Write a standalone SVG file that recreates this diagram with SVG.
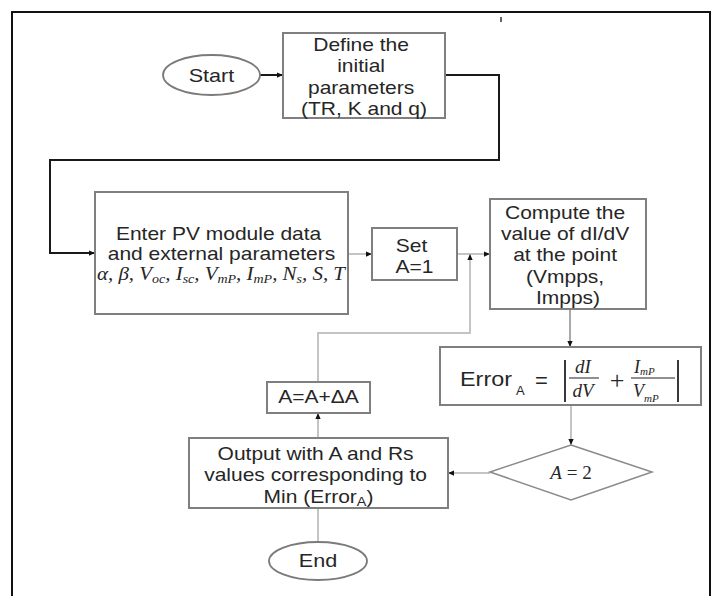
<svg xmlns="http://www.w3.org/2000/svg" width="716" height="596" viewBox="0 0 716 596">
<defs>
<style>
.box{fill:#fff;stroke:#7f7f7f;stroke-width:2}
.t{font-family:"Liberation Sans",Arial,sans-serif;font-size:17.5px;fill:#262626;text-anchor:middle}
.s{font-family:"Liberation Sans",Arial,sans-serif;fill:#262626}
.m{font-family:"Liberation Serif","DejaVu Serif",serif;font-style:italic;fill:#262626}
.r{font-family:"Liberation Serif","DejaVu Serif",serif;fill:#262626}
.dk{fill:none;stroke:#1a1a1a;stroke-width:2}
.lt{fill:none;stroke:#c4c4c4;stroke-width:2}
.md{fill:none;stroke:#8c8c8c;stroke-width:1.5}
</style>
<marker id="ah" viewBox="0 0 8 8" refX="8" refY="4" markerWidth="6" markerHeight="6" markerUnits="userSpaceOnUse" orient="auto"><path d="M0,0.5 L8,4 L0,7.5 z" fill="#111"/></marker>
</defs>
<rect width="716" height="596" fill="#fff"/>
<path d="M12,600 V12 H710 V600" fill="none" stroke="#111" stroke-width="2"/>
<line x1="501" y1="17" x2="501" y2="22" stroke="#333" stroke-width="1.5"/>

<g id="connectors">
<path class="dk" d="M260,75 H283" stroke-width="1.5" marker-end="url(#ah)"/>
<path class="dk" d="M445,75 H499 V160 H50 V253 H95" marker-end="url(#ah)"/>
<path class="lt" d="M348,254 H372" marker-end="url(#ah)"/>
<path class="lt" d="M457,254 H490" marker-end="url(#ah)"/>
<path class="md" d="M570,309 V347" marker-end="url(#ah)"/>
<path class="lt" d="M571,405 V445" marker-end="url(#ah)"/>
<path class="lt" d="M490,473 H448" marker-end="url(#ah)"/>
<path class="lt" d="M318,438 V413" marker-end="url(#ah)"/>
<path class="lt" d="M318,382 V333 H470 V254" marker-end="url(#ah)"/>
<path class="lt" d="M318,508 V542"/>
</g>

<g id="start">
<ellipse cx="211.5" cy="75" rx="48.5" ry="20" fill="#fff" stroke="#7a7a7a" stroke-width="1.8"/>
<text class="t" transform="matrix(1.2 0 0 1 211.5 0)" x="0" y="82" style="font-size:18px">Start</text>
</g>

<g id="define">
<rect class="box" x="283" y="33" width="162" height="85"/>
<text class="t" transform="matrix(1.2 0 0 1 364 0)">
<tspan x="0" y="51">Define the</tspan>
<tspan x="0" y="72">initial</tspan>
<tspan x="0" y="94">parameters</tspan>
<tspan x="0" y="115">(TR, K and q)</tspan>
</text>
</g>

<g id="enter">
<rect class="box" x="95" y="192" width="253" height="122"/>
<text class="t" transform="matrix(1.2 0 0 1 221.5 0)">
<tspan x="0" y="240">Enter PV module data</tspan>
<tspan x="0" y="260">and external parameters</tspan>
</text>
<text class="m" x="221" y="280" text-anchor="middle" font-size="18" textLength="248" lengthAdjust="spacingAndGlyphs">α, β, V<tspan font-size="12" dy="3">oc</tspan><tspan dy="-3">, I</tspan><tspan font-size="12" dy="3">sc</tspan><tspan dy="-3">, V</tspan><tspan font-size="12" dy="3">mP</tspan><tspan dy="-3">, I</tspan><tspan font-size="12" dy="3">mP</tspan><tspan dy="-3">, N</tspan><tspan font-size="12" dy="3">s</tspan><tspan dy="-3">, S, T</tspan></text>
</g>

<g id="set">
<rect class="box" x="372" y="228" width="85" height="52"/>
<text class="t" transform="matrix(1.2 0 0 1 414.5 0)">
<tspan x="0" y="252">Set</tspan>
<tspan x="0" y="273">A=1</tspan>
</text>
</g>

<g id="compute">
<rect class="box" x="490" y="199" width="156" height="110"/>
<text class="t" transform="matrix(1.2 0 0 1 568 0)">
<tspan x="0" y="219">Compute the</tspan>
<tspan x="0" y="240">value of dI/dV</tspan>
<tspan x="0" y="261">at the point</tspan>
<tspan x="0" y="283">(Vmpps,</tspan>
<tspan x="0" y="304">Impps)</tspan>
</text>
</g>

<g id="error">
<rect class="box" x="440" y="347" width="261" height="58"/>
<text class="s" x="460" y="386" font-size="20" textLength="52" lengthAdjust="spacingAndGlyphs">Error</text>
<text class="s" x="516" y="395" font-size="13">A</text>
<text class="s" x="535" y="388" font-size="22">=</text>
<line x1="565" y1="360" x2="565" y2="402" stroke="#222" stroke-width="1.8"/>
<text class="m" x="583" y="373" font-size="19" text-anchor="middle">dI</text>
<line x1="569" y1="378" x2="599" y2="378" stroke="#222" stroke-width="1"/>
<text class="m" x="583" y="397" font-size="19" text-anchor="middle">dV</text>
<text class="r" x="617" y="389" font-size="26" text-anchor="middle">+</text>
<text class="m" x="634" y="373" font-size="18">I<tspan font-size="11" dy="2">mP</tspan></text>
<line x1="631" y1="378" x2="675" y2="378" stroke="#222" stroke-width="1"/>
<text class="m" x="633" y="397" font-size="18">V<tspan font-size="11" dy="5">mP</tspan></text>
<line x1="678" y1="360" x2="678" y2="402" stroke="#222" stroke-width="1.8"/>
</g>

<g id="decision">
<polygon points="571,445 652,472 571,500 490,472" fill="#fff" stroke="#8a8a8a" stroke-width="1.5"/>
<text class="r" x="571" y="479" font-size="19" text-anchor="middle"><tspan font-style="italic">A</tspan> = 2</text>
</g>

<g id="output">
<rect class="box" x="189" y="438" width="259" height="70"/>
<text class="t" transform="matrix(1.2 0 0 1 318.5 0)">
<tspan x="0" y="460">Output with A and Rs</tspan>
<tspan x="0" y="481">values corresponding to</tspan>
<tspan x="0" y="503">Min (Error<tspan font-size="12" dy="3">A</tspan><tspan dy="-3">)</tspan></tspan>
</text>
</g>

<g id="increment">
<rect class="box" x="267" y="382" width="103" height="31"/>
<text class="t" transform="matrix(1.2 0 0 1 318.5 0)" x="0" y="403">A=A+ΔA</text>
</g>

<g id="end">
<ellipse cx="318" cy="561" rx="49" ry="19" fill="#fff" stroke="#7a7a7a" stroke-width="1.8"/>
<text class="t" transform="matrix(1.2 0 0 1 318 0)" x="0" y="567" style="font-size:18px">End</text>
</g>
</svg>
